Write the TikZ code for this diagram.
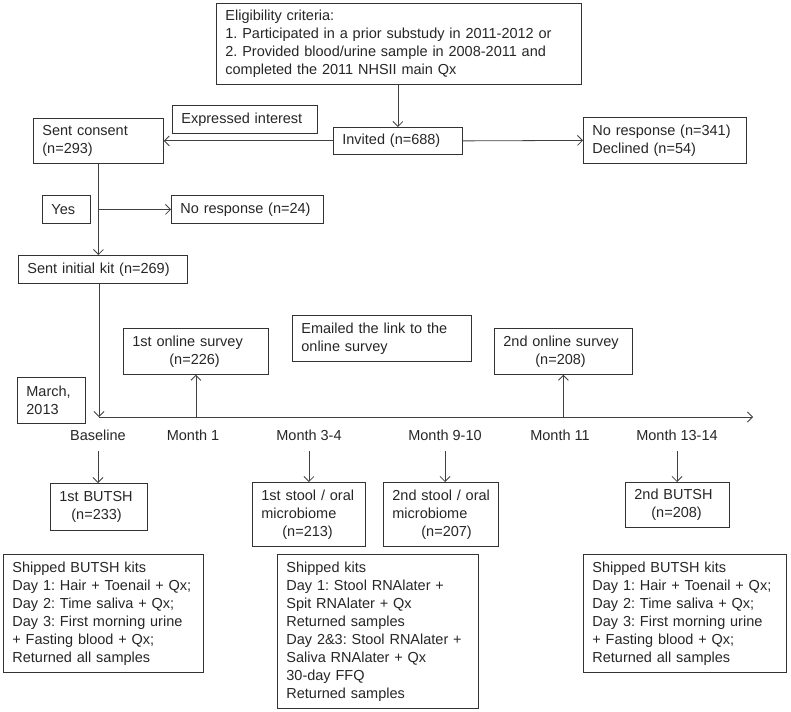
\documentclass[tikz,border=0pt]{standalone}
\usepackage{fontspec}
\setmainfont{Liberation Sans}
\usetikzlibrary{arrows.meta}
\frenchspacing
\begin{document}
\begin{tikzpicture}[x=1pt,y=-1pt,
    font=\fontsize{14.5}{18}\selectfont,
    text=black!85,
    box/.style={draw=black!80, line width=0.8pt, anchor=north west, align=left, inner xsep=9pt, inner ysep=2pt},
    month/.style={inner xsep=2pt, inner ysep=10pt},
    line/.style={draw=black!75, line width=0.8pt},
    >={Straight Barb[length=5pt,width=10pt]}]
  \useasboundingbox (0,0) rectangle (791,711);
  \node[box, text width=347pt, minimum height=81pt] (elig) at (216,3) {Eligibility criteria:\\1. Participated in a prior substudy in 2011-2012 or\\2. Provided blood/urine sample in 2008-2011 and\\completed the 2011 NHSII main Qx};
  \node[box, text width=111pt, minimum height=27pt] (invited) at (333,127) {Invited (n=688)};
  \node[box, text width=127pt, minimum height=28pt] (interest) at (172,105) {Expressed interest};
  \node[box, text width=112pt, minimum height=45pt] (consent) at (33,118) {Sent consent\\(n=293)};
  \node[box, text width=145pt, minimum height=46pt] (noresp) at (583,117) {No response (n=341)\\Declined (n=54)};
  \node[box, text width=30pt, minimum height=28pt] (yes) at (42,195) {Yes};
  \node[box, text width=134pt, minimum height=28pt] (nokit) at (171,195) {No response (n=24)};
  \node[box, text width=151pt, minimum height=28pt] (kit) at (18,255) {Sent initial kit (n=269)};
  \node[box, text width=50pt, minimum height=46pt] (march) at (17,377) {March,\\2013};
  \node[box, text width=127pt, minimum height=46pt] (survey1) at (123,328) {1st online survey\\\hspace*{37pt}(n=226)};
  \node[box, text width=161pt, minimum height=46pt] (emailed) at (292,315) {Emailed the link to the\\online survey};
  \node[box, text width=120pt, minimum height=46pt] (survey2) at (494,328) {2nd online survey\\\hspace*{32pt}(n=208)};

  \coordinate (t0) at (99,417);
  \coordinate (tend) at (753,417);
  \draw[line,->] (t0) -- (tend);
  \node[month] (m0) at (98,435) {Baseline};
  \node[month] (m1) at (193,435) {Month 1};
  \node[month] (m2) at (309,435) {Month 3-4};
  \node[month] (m3) at (445,435) {Month 9-10};
  \node[month] (m4) at (560,435) {Month 11};
  \node[month] (m5) at (677,435) {Month 13-14};

  \node[box, text width=79pt, minimum height=47pt] (butsh1) at (50,483) {1st BUTSH\\\hspace*{12pt}(n=233)};
  \node[box, text width=95pt, minimum height=64pt] (stool1) at (252,482) {1st~stool~/~oral\\microbiome\\\hspace*{21pt}(n=213)};
  \node[box, text width=97pt, minimum height=64pt] (stool2) at (383,482) {2nd~stool~/~oral\\microbiome\\\hspace*{29pt}(n=207)};
  \node[box, text width=86pt, minimum height=45pt] (butsh2) at (625,482) {2nd BUTSH\\\hspace*{17pt}(n=208)};
  \node[box, text width=182pt, minimum height=118pt] (kits1) at (3,554) {Shipped BUTSH kits\\Day 1: Hair + Toenail + Qx;\\Day 2: Time saliva + Qx;\\Day 3: First morning urine\\+ Fasting blood + Qx;\\Returned all samples};
  \node[box, text width=183pt, minimum height=154pt] (kits2) at (277,554) {Shipped kits\\Day 1: Stool RNAlater +\\Spit RNAlater + Qx\\Returned samples\\Day 2\&3: Stool RNAlater +\\Saliva RNAlater + Qx\\30-day FFQ\\Returned samples};
  \node[box, text width=185pt, minimum height=118pt] (kits3) at (583,554) {Shipped BUTSH kits\\Day 1: Hair + Toenail + Qx;\\Day 2: Time saliva + Qx;\\Day 3: First morning urine\\+ Fasting blood + Qx;\\Returned all samples};

  \draw[line,->] (invited.north |- elig.south) -- (invited.north);
  \draw[line,->] (invited.west) -- (consent.east);
  \draw[line,->] (invited.east) -- (noresp.west);
  \draw[line,->] (consent.south) -- (consent.south |- kit.north);
  \draw[line,->] (consent.south |- nokit.west) -- (nokit.west);
  \draw[line,->] (kit.south -| t0) -- (t0);
  \draw[line,->] (survey1.south |- t0) -- (survey1.south);
  \draw[line,->] (survey2.south |- t0) -- (survey2.south);
  \draw[line,->] (m0.south) -- (m0.south |- butsh1.north);
  \draw[line,->] (stool1.north |- m2.south) -- (stool1.north);
  \draw[line,->] (m3.south) -- (m3.south |- stool2.north);
  \draw[line,->] (m5.south) -- (m5.south |- butsh2.north);
\end{tikzpicture}
\end{document}
